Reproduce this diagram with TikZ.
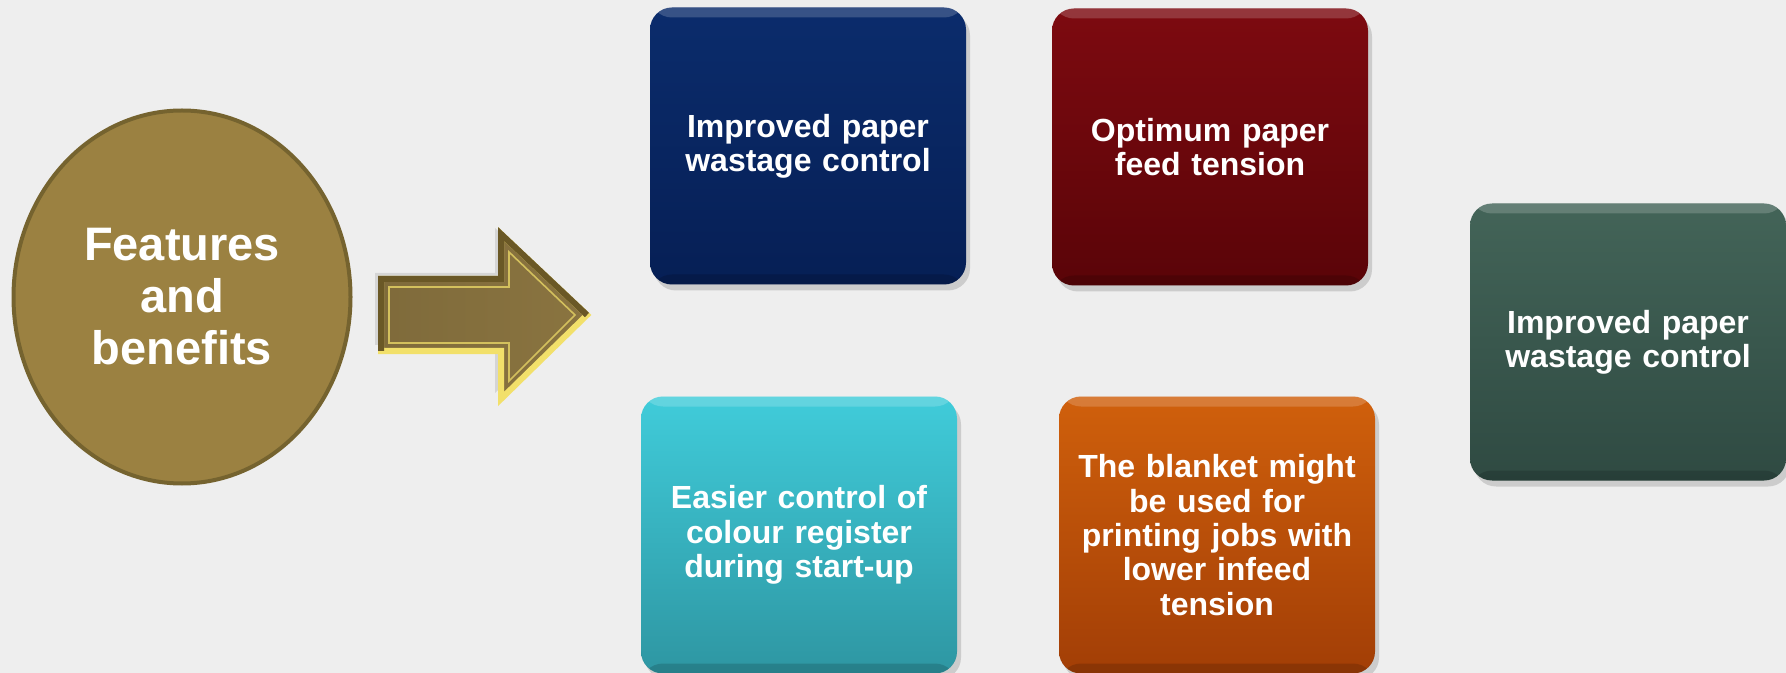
\documentclass[tikz,border=0pt]{standalone}
\usepackage{fontspec}
\setmainfont{Liberation Sans}
\usetikzlibrary{shapes.geometric,shadows}

\definecolor{bgc}{HTML}{EEEEEE}
\definecolor{goldfill}{HTML}{9B8141}
\definecolor{golddraw}{HTML}{75632F}
\definecolor{arrowbody}{HTML}{8A7440}
\definecolor{arrowlite}{HTML}{F2E06A}
\definecolor{arrowdark}{HTML}{6A5826}
\definecolor{bluetop}{HTML}{0B2C6C}
\definecolor{bluebot}{HTML}{061F55}
\definecolor{redtop}{HTML}{7D0A10}
\definecolor{redbot}{HTML}{5A0408}
\definecolor{cyantop}{HTML}{40CCDA}
\definecolor{cyanbot}{HTML}{2E96A2}
\definecolor{orangetop}{HTML}{D0600C}
\definecolor{orangebot}{HTML}{A23E06}
\definecolor{greentop}{HTML}{436458}
\definecolor{greenbot}{HTML}{2F4A42}

\tikzset{
  card/.style={rounded corners=11pt, minimum width=158pt, minimum height=138.5pt,
    text width=140pt, align=center, text=white, inner sep=0pt,
    font=\bfseries\fontsize{16}{17.2}\selectfont,
    drop shadow={opacity=0.3, shadow xshift=2pt, shadow yshift=-3pt},
    path picture={
      \fill[white,opacity=0.18] (path picture bounding box.north west) rectangle ([yshift=-5pt]path picture bounding box.north east);
      \fill[black,opacity=0.15] (path picture bounding box.south west) rectangle ([yshift=5pt]path picture bounding box.south east);
    }},
  hub/.style={ellipse, minimum width=168.5pt, minimum height=186.5pt, inner sep=2pt,
    fill=goldfill, draw=golddraw, line width=2pt, align=center, text=white,
    font=\bfseries\fontsize{23.5}{26}\selectfont}
}

\begin{document}
\begin{tikzpicture}[x=0.5pt,y=0.5pt,yscale=-1,xscale=1]
%set diagram to 1786 x 673
\fill[bgc] (0,0) rectangle (1786,673);
\useasboundingbox (0,0) rectangle (1786,673);

%Shape: Ellipse [id:features]
\node[hub] (features) at (182,297) {Features\\and\\benefits};

%Shape: Arrow [id:bigarrow]
\coordinate (a1) at (381,279);
\coordinate (a2) at (501,279);
\coordinate (a3) at (501,234);
\coordinate (tip) at (587,315);
\coordinate (a5) at (501,399);
\coordinate (a6) at (501,351);
\coordinate (a7) at (381,351);
\fill[black,opacity=0.1] ([shift={(-6,-6)}]a1) -- ([shift={(-6,-6)}]a2) -- ([shift={(-6,-6)}]a3) -- ([shift={(-6,-6)}]tip) -- ([shift={(-6,-6)}]a5) -- ([shift={(-6,-6)}]a6) -- ([shift={(-6,-6)}]a7) -- cycle;
\draw[left color=arrowbody!92!black, right color=arrowbody, draw=arrowlite, line width=3pt, line join=miter]
  (a1) -- (a2) -- (a3) -- (tip) -- (a5) -- (a6) -- (a7) -- cycle;
\draw[arrowdark, line width=3pt] (a7) -- (a1) -- (a2) -- (a3) -- (tip);
\draw[arrowlite!70!arrowbody, line width=0.8pt] ([shift={(8,8)}]a1) -- ([shift={(8,8)}]a2) -- ([shift={(8,18)}]a3) -- ([shift={(-12,0)}]tip) -- ([shift={(8,-18)}]a5) -- ([shift={(8,-8)}]a6) -- ([shift={(8,-8)}]a7) -- cycle;

%Shape: Rounded Rectangle [id:wastage]
\node[card, top color=bluetop, bottom color=bluebot] (wastage) at (808,146) {Improved paper\\wastage control};
%Shape: Rounded Rectangle [id:tension]
\node[card, top color=redtop, bottom color=redbot] (tension) at (1210,147) {Optimum paper\\feed tension};
%Shape: Rounded Rectangle [id:register]
\node[card, top color=cyantop, bottom color=cyanbot] (register) at (799,535) {Easier control of\\colour register\\during start-up};
%Shape: Rounded Rectangle [id:blanket]
\node[card, top color=orangetop, bottom color=orangebot] (blanket) at (1217,535) {The blanket might\\be used for\\printing jobs with\\lower infeed\\tension};
%Shape: Rounded Rectangle [id:wastagetwo]
\node[card, top color=greentop, bottom color=greenbot] (wastagetwo) at (1628,342) {Improved paper\\wastage control};

\end{tikzpicture}
\end{document}
